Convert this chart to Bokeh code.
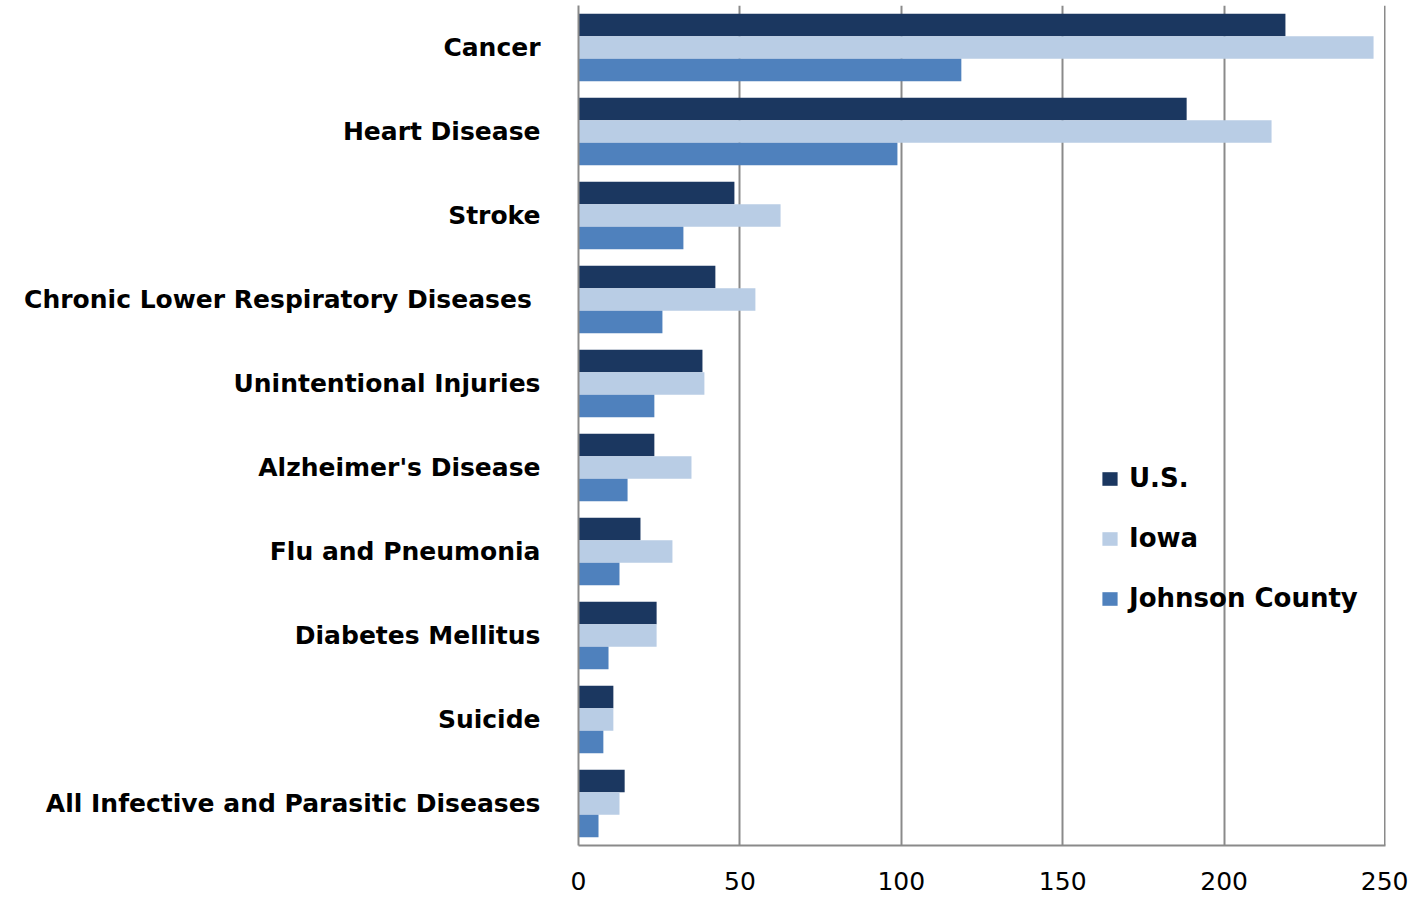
from bokeh.plotting import figure
from bokeh.models import ColumnDataSource, FactorRange, Range1d, Legend, LegendItem, FixedTicker, Span
from bokeh.transform import dodge
from bokeh.embed import file_html
from bokeh.resources import INLINE

categories = ["Cancer", "Heart Disease", "Stroke", "Chronic Lower  Respiratory Diseases",
              "Unintentional Injuries", "Alzheimer's Disease", "Flu and Pneumonia",
              "Diabetes Mellitus", "Suicide", "All Infective and Parasitic Diseases"]
us = [219.0, 188.4, 48.3, 42.4, 38.4, 23.5, 19.2, 24.2, 10.8, 14.3]
iowa = [246.3, 214.7, 62.6, 54.8, 39.0, 35.0, 29.1, 24.2, 10.8, 12.7]
johnson = [118.6, 98.8, 32.5, 26.0, 23.5, 15.2, 12.7, 9.3, 7.7, 6.2]
x_ticks = [0, 50, 100, 150, 200, 250]

src = ColumnDataSource(dict(cat=categories, us=us, iowa=iowa, johnson=johnson))

p = figure(width=1408, height=896, output_backend="svg", toolbar_location=None,
           y_range=FactorRange(factors=list(reversed(categories)), range_padding=0),
           x_range=Range1d(x_ticks[0], x_ticks[-1]),
           min_border_left=578, min_border_right=23, min_border_top=5, min_border_bottom=51)

bh = 0.267
r_us = p.hbar(y=dodge("cat", bh, range=p.y_range), right="us", left=0, height=bh,
              source=src, fill_color="#1b3760", line_color=None)
r_ia = p.hbar(y=dodge("cat", 0, range=p.y_range), right="iowa", left=0, height=bh,
              source=src, fill_color="#b9cde5", line_color=None)
r_jc = p.hbar(y=dodge("cat", -bh, range=p.y_range), right="johnson", left=0, height=bh,
              source=src, fill_color="#4f81bd", line_color=None)

p.outline_line_color = None
p.ygrid.grid_line_color = None
p.xgrid.grid_line_color = "#8a8a8a"
p.xgrid.grid_line_width = 2
p.xgrid.ticker = FixedTicker(ticks=x_ticks)
p.add_layout(Span(location=x_ticks[-1], dimension="height", line_color="#8a8a8a", line_width=3))

p.xaxis.ticker = FixedTicker(ticks=x_ticks)
p.xaxis.axis_line_color = "#8a8a8a"
p.xaxis.axis_line_width = 2
p.xaxis.major_tick_line_color = None
p.xaxis.minor_tick_line_color = None
p.xaxis.major_label_text_font = "DejaVu Sans"
p.xaxis.major_label_text_font_size = "25px"
p.xaxis.major_label_text_color = "#000000"
p.xaxis.major_label_standoff = 20

p.yaxis.axis_line_color = "#8a8a8a"
p.yaxis.axis_line_width = 2
p.yaxis.major_tick_line_color = None
p.yaxis.minor_tick_line_color = None
p.yaxis.major_label_text_font = "DejaVu Sans"
p.yaxis.major_label_text_font_style = "bold"
p.yaxis.major_label_text_font_size = "25px"
p.yaxis.major_label_text_color = "#000000"
p.yaxis.major_label_standoff = 32

legend = Legend(items=[LegendItem(label="U.S.", renderers=[r_us]),
                       LegendItem(label="Iowa", renderers=[r_ia]),
                       LegendItem(label="Johnson County", renderers=[r_jc])],
                location=(522, 232), orientation="vertical",
                glyph_width=19, glyph_height=17, spacing=30,
                label_text_font="DejaVu Sans", label_text_font_style="bold",
                label_text_font_size="26px", label_text_color="#000000",
                label_standoff=10, padding=0, margin=0,
                border_line_color=None, background_fill_alpha=0)
p.add_layout(legend)

open("out.html", "w").write(file_html(p, INLINE))
